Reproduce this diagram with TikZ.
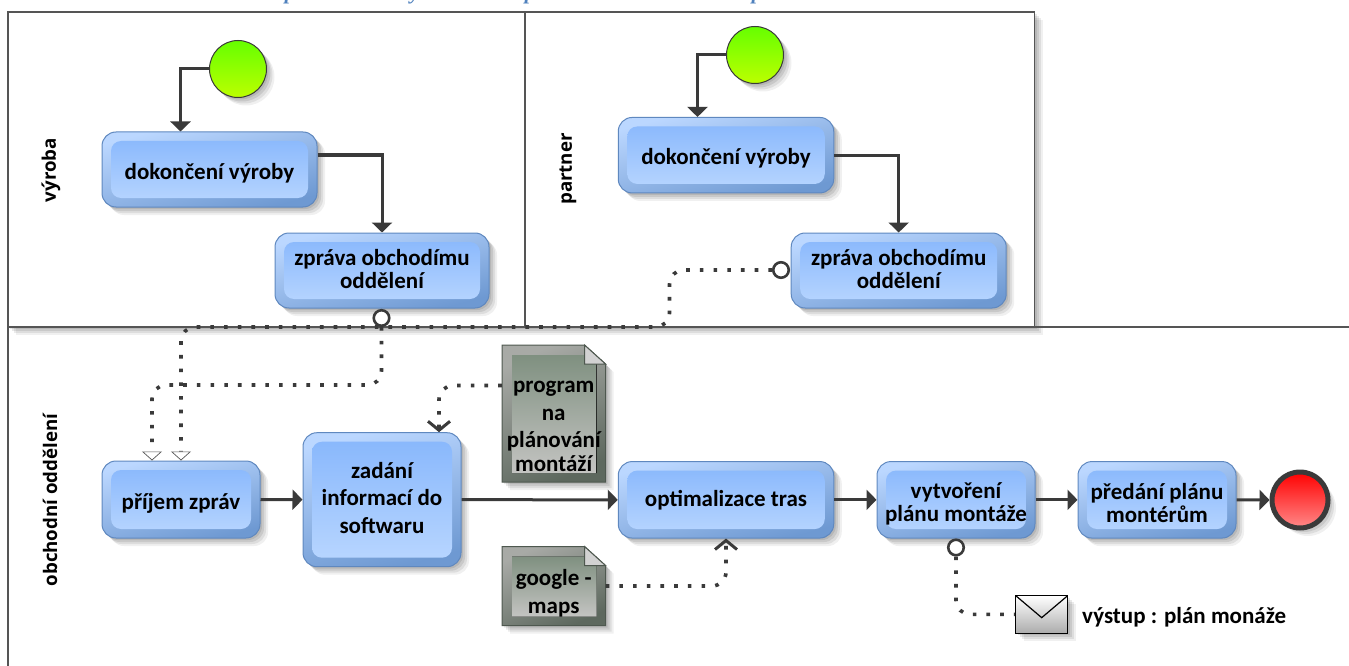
\documentclass[tikz,border=0pt]{standalone}
\usepackage{fontspec}
\setmainfont{Carlito}
\newfontfamily\lanefont{Open Sans}
\newfontfamily\titlefont{Liberation Serif}
\usetikzlibrary{arrows.meta,shadows,calc,positioning}
\definecolor{linedark}{HTML}{3A3A3A}
\definecolor{poolline}{HTML}{555555}
\definecolor{taskborder}{HTML}{5F88BF}
\definecolor{taskoutertop}{HTML}{BBD7FF}
\definecolor{taskouterbot}{HTML}{6E99D2}
\definecolor{taskinnertop}{HTML}{86B6FC}
\definecolor{taskinnerbot}{HTML}{BAD7FF}
\definecolor{starttop}{HTML}{66FF00}
\definecolor{startbot}{HTML}{BCFF00}
\definecolor{endtop}{HTML}{FF0000}
\definecolor{endbot}{HTML}{FF8A8A}
\definecolor{docborder}{HTML}{4E584F}
\definecolor{docoutertop}{HTML}{A8AAA6}
\definecolor{docouterbot}{HTML}{5D685E}
\definecolor{docinnertop}{HTML}{7F9080}
\definecolor{docinnerbot}{HTML}{C4C4C2}
\definecolor{docfoldc}{HTML}{D2D2D2}
\definecolor{envbot}{HTML}{ACACAC}
\definecolor{titleblue}{HTML}{4F81BD}
\newcommand{\dn}[1]{\rule{0pt}{#1}}
\newcommand{\upr}[1]{\rule[-#1]{0pt}{0pt}}
\tikzset{
  softshadow/.style={
    general shadow={fill=black,opacity=.09,shadow xshift=2pt,shadow yshift=-2pt},
    general shadow={fill=black,opacity=.09,shadow xshift=4pt,shadow yshift=-4pt},
    general shadow={fill=black,opacity=.08,shadow xshift=6pt,shadow yshift=-6pt},
    general shadow={fill=black,opacity=.06,shadow xshift=8pt,shadow yshift=-8pt}},
  task/.style={softshadow,rectangle,rounded corners=14pt,draw=taskborder,line width=1pt,
    top color=taskoutertop,bottom color=taskouterbot,shading angle=15,
    inner sep=0pt,align=center,font=\bfseries\fontsize{23}{23}\selectfont,
    path picture={
      \shade[rounded corners=10pt,top color=taskinnertop,bottom color=taskinnerbot,shading angle=0]
        ([shift={(9pt,-9pt)}]path picture bounding box.north west) rectangle
        ([shift={(-9pt,9pt)}]path picture bounding box.south east);}},
  flow/.style={draw=linedark,line width=3pt,-{Triangle[length=10pt,width=20pt]}},
  msgline/.style={draw=linedark,line width=3.6pt,dash pattern=on 3.6pt off 10.1pt,rounded corners=14pt},
  opentip/.style={-{Triangle[open,fill=white,length=9pt,width=20pt,line width=.7pt,color=poolline]}},
  baretip/.style={-{Straight Barb[length=9pt,width=22pt,line width=3pt,color=linedark]}},
  msgdot/.style={circle,draw=linedark,line width=2.6pt,fill=white,minimum size=15.5pt,inner sep=0pt},
  startev/.style={softshadow,circle,draw=linedark,line width=1pt,top color=starttop,bottom color=startbot,inner sep=0pt,minimum size=57pt},
  endev/.style={softshadow,circle,draw=linedark,line width=5pt,top color=endtop,bottom color=endbot,inner sep=0pt,minimum size=56pt},
  lanelabel/.style={rotate=90,font=\lanefont\bfseries\fontsize{18.7}{20}\selectfont,inner sep=0pt},
  doctext/.style={inner sep=0pt,align=center,font=\bfseries\fontsize{23}{23}\selectfont},
  docouter/.style={softshadow,draw=docborder,line width=1pt,top color=docoutertop,bottom color=docouterbot,shading angle=25},
  docinner/.style={top color=docinnertop,bottom color=docinnerbot},
  docfold/.style={draw=docborder,line width=1pt,fill=docfoldc},
  envelope/.style={softshadow,rectangle,draw=black,line width=1.2pt,top color=white,bottom color=envbot,inner sep=0pt,
    minimum width=52pt,minimum height=37.5pt,
    path picture={
      \draw[black,line width=1.2pt] (path picture bounding box.north west) --
      ([yshift=15.5pt]path picture bounding box.south) -- (path picture bounding box.north east);}},
  pool/.style={draw=poolline,line width=1.2pt},
  titleglyph/.style={inner sep=0pt,anchor=base,text=titleblue,font=\titlefont\bfseries\itshape\fontsize{21}{24}\selectfont},
}
\newcommand{\docshape}[4]{% x1 y1 x2 y2
  \path[docouter] (#1,#2) -- (#3-21,#2) -- (#3,#2+19) -- (#3,#4) -- (#1,#4) -- cycle;
  \fill[docinner] (#1+10,#2+10) -- (#3-21,#2+10) -- (#3-21,#2+19) -- (#3-9,#2+19) -- (#3-9,#4-9) -- (#1+10,#4-9) -- cycle;
  \path[docfold] (#3-21,#2) -- (#3,#2+19) -- (#3-21,#2+19) -- cycle;}
\begin{document}
\begin{tikzpicture}[x=1pt,y=-1pt]
\useasboundingbox (0,0) rectangle (1349,666);
% clipped title remnants
\begin{scope}
  \clip (0,0) rectangle (1349,8);
  \node[titleglyph] (tp1) at (290,0) {p};
  \node[titleglyph] (ty1) at (415,0) {y};
  \node[titleglyph] (tp2) at (530,0) {p};
  \node[titleglyph] (tp3) at (757,0) {p};
\end{scope}
% pools
\draw[pool,softshadow,fill=white] (8,12) rectangle (1034.5,327);
\draw[pool] (525,12) -- (525,327);
\draw[pool] (8,327) -- (8,666);
\draw[pool] (8,327) -- (1349,327);
% lane labels
\node[lanelabel] (lv) at (51,170) {výroba};
\node[lanelabel] (lp) at (568,169) {partner};
\node[lanelabel] (lo) at (50,500) {obchodní oddělení};
% events
\node[startev] (s1) at (238,69) {};
\node[startev] (s2) at (755,55) {};
\node[endev] (e) at (1300,500) {};
% tasks
\node[task,minimum width=215pt,minimum height=75pt] (t1) at (209.5,169.5) {\dn{23pt}dokončení výroby};
\node[task,minimum width=214pt,minimum height=75pt] (t2) at (382,270.5) {zpráva obchodímu\\oddělení\upr{4pt}};
\node[task,minimum width=215.5pt,minimum height=75.5pt] (t3) at (726,155.2) {\dn{23pt}dokončení výroby};
\node[task,minimum width=215pt,minimum height=75pt] (t4) at (898.7,270.5) {zpráva obchodímu\\oddělení\upr{4pt}};
\node[task,minimum width=158pt,minimum height=77pt] (p) at (181,499.5) {\dn{23pt}příjem zpráv};
\node[task,minimum width=158pt,minimum height=134pt,font=\bfseries\fontsize{23}{27.5}\selectfont] (z) at (382,499.7) {zadání\\informací do\\softwaru\upr{4pt}};
\node[task,minimum width=215.5pt,minimum height=76.5pt] (o) at (726,499.8) {optimalizace tras};
\node[task,minimum width=158pt,minimum height=76.5pt] (v) at (956,499.8) {\dn{24pt}vytvoření\\plánu montáže};
\node[task,minimum width=158pt,minimum height=76.5pt] (r) at (1157,499.8) {\dn{22pt}předání plánu\\montérům};
% documents
\docshape{502}{345}{605.5}{482}
\node[doctext,minimum width=103.5pt,minimum height=137pt,font=\bfseries\fontsize{23}{27.5}\selectfont] (d1) at (553.7,413.5) {\dn{37pt}program\\na\\plánování\\[-4pt]montáží};
\docshape{502}{546.5}{605.5}{625.5}
\node[doctext,minimum width=103.5pt,minimum height=79pt,font=\bfseries\fontsize{23}{28}\selectfont] (d2) at (553.7,586) {\dn{31pt}google -\\maps};
% envelope
\node[envelope] (env) at (1041.7,614.4) {};
\node[anchor=west,inner sep=0pt,font=\bfseries\fontsize{23}{26}\selectfont] (envt) at (1082,617) {výstup : plán monáže};
% message dots
\node[msgdot] (m1) at (381.5,318) {};
\node[msgdot] (m2) at (781,270) {};
\node[msgdot] (m3) at (956,547.5) {};
% sequence flows
\draw[flow] (s1.west) -| ([xshift=-29pt]t1.north);
\draw[flow] ([yshift=14.5pt]t1.east) -| (t2.north);
\draw[flow] (s2.west) -| ([xshift=-28.5pt]t3.north);
\draw[flow] (t3.east) -| (t4.north);
\draw[flow] (p.east) -- (z.west);
\draw[flow] (z.east) -- (o.west);
\draw[flow] (o.east) -- (v.west);
\draw[flow] (v.east) -- (r.west);
\draw[flow] (r.east) -- (e.west);
% message flows
\coordinate (j1) at (152,385);
\coordinate (j2) at (669.5,327);
\draw[msgline,opentip] (m1.south) |- (j1) -- ([xshift=-29pt]p.north);
\draw[msgline,opentip] (m2.west) -| (j2) -| (p.north);
\draw[msgline,baretip] ([yshift=28pt]d1.west) -| ([xshift=57pt]z.north);
\draw[msgline,baretip] (d2.east) -| (o.south);
\draw[msgline] (m3.south) |- (env.west);
\end{tikzpicture}
\end{document}
